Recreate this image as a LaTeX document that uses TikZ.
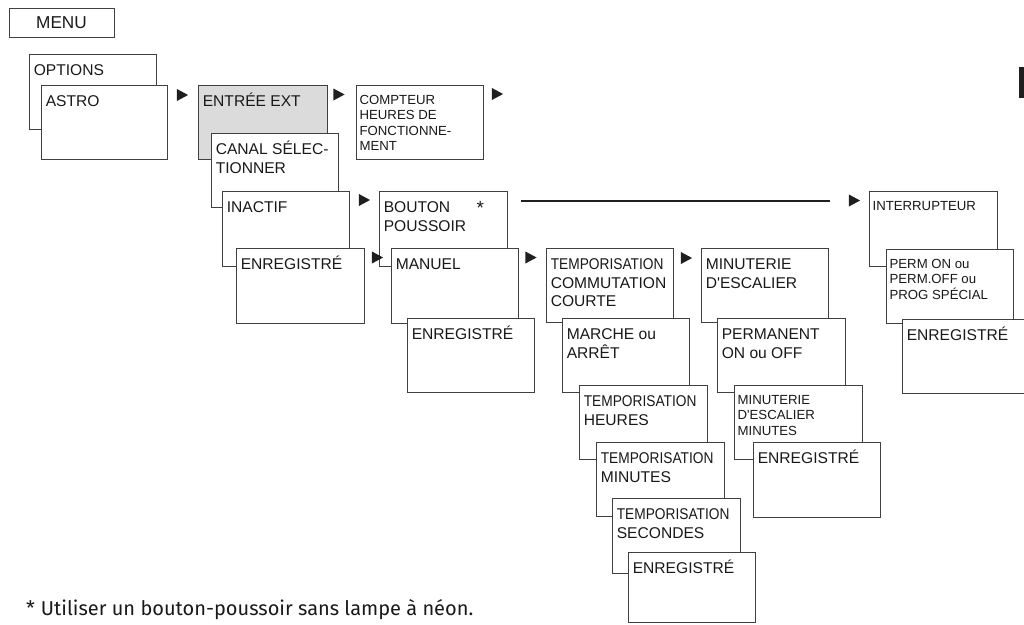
\documentclass[tikz,border=0pt]{standalone}
\usepackage{fontspec}
\usepackage{graphicx}
\setmainfont{Liberation Sans}
\newfontfamily\notefont{Fira Sans}
\newcommand\bigf{\fontsize{15.6}{18.3}\selectfont}
\newcommand\smallf{\fontsize{13.2}{15.5}\selectfont}
\newcommand\tmpz{\scalebox{0.88}[1]{TEMPORISATION}}
\newcommand\mypb[1]{\parbox[t]{132pt}{\raggedright #1}}
\newcommand\mybx[6]{\node[box,minimum width=#4pt-#2pt,minimum height=#5pt-#3pt,#6] (#1) at (#2,#3) {};}
\newcommand\mybl[2]{\node[lbl] (#1-t) at ([xshift=4.6pt,yshift=-21.8pt]#1.north west) {\mypb{#2}};}
\newcommand\mysl[2]{\node[slbl] (#1-t) at ([xshift=3.4pt,yshift=-19pt]#1.north west) {\mypb{#2}};}
\newcommand\myarr[2]{\fill[black!88] (#1-5.6,#2-6) -- (#1+5.6,#2) -- (#1-5.6,#2+6) -- cycle;}
\tikzset{
  box/.style={draw=black!75, line width=1pt, fill=white, anchor=north west, inner sep=0pt, outer sep=0pt},
  lbl/.style={anchor=base west, inner sep=0pt, font=\bigf, text=black!90},
  slbl/.style={anchor=base west, inner sep=0pt, font=\smallf, text=black!90},
}
\begin{document}
\begin{tikzpicture}[x=1pt,y=-1pt]
\useasboundingbox (0,0) rectangle (1024,624);
\clip (0,0) rectangle (1024,624);
% MENU
\node[box, minimum width=105pt, minimum height=29pt] (menu) at (9,8) {};
\node[font=\fontsize{17.2}{18}\selectfont, text=black!90, inner sep=0pt] (menu-t) at (menu.center) {MENU};
% column 1
\mybx{opt}{29}{54}{156}{129}{} \mybl{opt}{OPTIONS}
\mybx{astro}{41}{85}{167}{159}{} \mybl{astro}{ASTRO}
\myarr{182.5}{95}
% column 2
\mybx{entree}{198}{85}{327}{159}{fill=black!14} \mybl{entree}{ENTRÉE EXT}
\mybx{canal}{211}{133}{338}{207}{} \mybl{canal}{CANAL SÉLEC-\\TIONNER}
\mybx{inactif}{222}{191}{349}{266}{} \mybl{inactif}{INACTIF}
\mybx{enr1}{236}{248}{364}{323}{} \mybl{enr1}{ENREGISTRÉ}
\myarr{339}{94.5}
\myarr{364.5}{200}
% compteur
\mybx{compt}{356}{85}{483}{159}{} \mysl{compt}{COMPTEUR\\HEURES DE\\FONCTIONNE-\\MENT}
\myarr{497.5}{94}
% bouton
\mybx{bouton}{379}{191}{507}{266}{} \mybl{bouton}{BOUTON\\POUSSOIR}
\node[font=\fontsize{19}{20}\selectfont, inner sep=0pt, anchor=base west, text=black!90] (star) at (476.5,214.5) {*};
\mybx{manuel}{391}{248}{518}{323}{} \mybl{manuel}{MANUEL}
\mybx{enr2}{407}{318}{534}{392}{} \mybl{enr2}{ENREGISTRÉ}
\myarr{377.5}{257.5}
\myarr{531}{257.5}
% long line
\coordinate (ls) at (521,201);
\coordinate (le) at (830,201);
\draw[line width=2.4pt, black!88] (ls) -- (le);
\myarr{854.5}{200.5}
% temporisation column
\mybx{temp}{546}{248}{673}{322}{} \mybl{temp}{\tmpz\\COMMUTATION\\COURTE}
\mybx{marche}{562}{318}{689}{392}{} \mybl{marche}{MARCHE ou\\ARRÊT}
\mybx{heures}{579}{385}{707}{459}{} \mybl{heures}{\tmpz\\HEURES}
\mybx{minutes}{596}{442}{724}{516}{} \mybl{minutes}{\tmpz\\MINUTES}
\mybx{secondes}{612}{498}{740}{573}{} \mybl{secondes}{\tmpz\\SECONDES}
\mybx{enr3}{628}{552}{755}{622}{} \mybl{enr3}{ENREGISTRÉ}
\myarr{686.5}{258}
% minuterie column
\mybx{minut}{701}{248}{828}{322}{} \mybl{minut}{MINUTERIE\\D\textquotesingle ESCALIER}
\mybx{perm}{717}{318}{845}{392}{} \mybl{perm}{PERMANENT\\ON ou OFF}
\mybx{minmin}{734}{385}{862}{459}{} \mysl{minmin}{MINUTERIE\\D\textquotesingle ESCALIER\\MINUTES}
\mybx{enr4}{753}{442}{880}{517}{} \mybl{enr4}{ENREGISTRÉ}
% interrupteur column
\mybx{inter}{869}{191}{997}{266}{} \mysl{inter}{INTERRUPTEUR}
\mybx{permon}{886}{249}{1013}{323}{} \mysl{permon}{PERM ON ou\\PERM.OFF ou\\PROG SPÉCIAL}
\mybx{enr5}{902}{319}{1030}{393}{} \mybl{enr5}{ENREGISTRÉ}
% side tab
\fill[black!88] (1019,67) rectangle (1025,98);
% footnote
\node[font=\notefont\fontsize{20}{22}\selectfont, anchor=base west, inner sep=0pt, text=black!90] (note) at (26,615.5) {*\hspace{6pt}Utiliser un bouton-poussoir sans lampe à néon.};
\end{tikzpicture}
\end{document}
